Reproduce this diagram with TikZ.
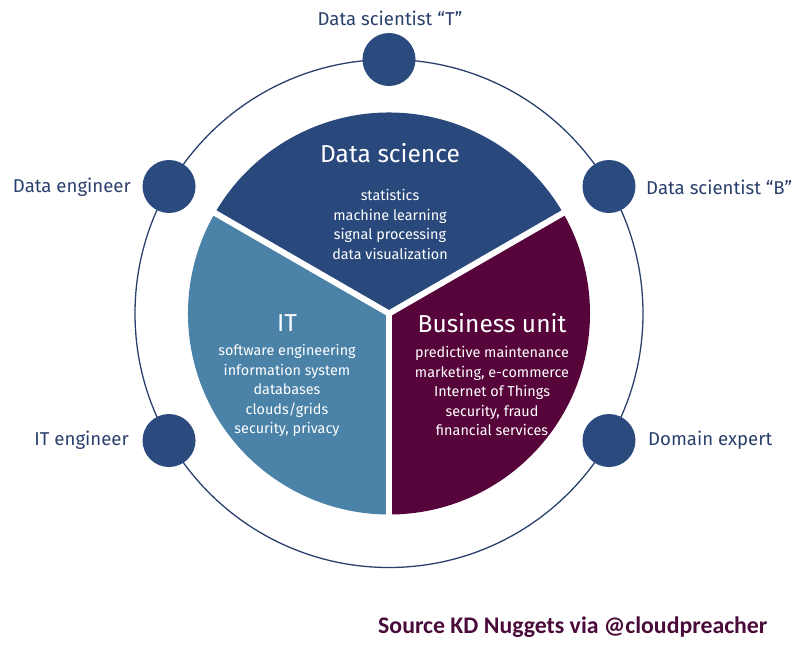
\documentclass[tikz,border=0pt]{standalone}
\usepackage{fontspec}
\usetikzlibrary{calc}
\setmainfont{Fira Sans}
\newfontfamily\srcfont{Carlito}
\definecolor{dsblue}{RGB}{41,73,124}
\definecolor{itblue}{RGB}{74,130,168}
\definecolor{bupurple}{RGB}{86,4,58}
\definecolor{dotblue}{RGB}{43,74,126}
\definecolor{lblblue}{RGB}{42,64,108}
\definecolor{srcpurple}{RGB}{74,10,58}
\tikzset{
  dot/.style={circle,fill=dotblue,minimum size=53pt,inner sep=0pt},
  outerlbl/.style={text=lblblue,font=\fontsize{18.6}{20}\selectfont,inner sep=0pt},
  title/.style={text=white,font=\fontsize{24.5}{28}\selectfont,inner sep=0pt},
  body/.style={text=white,font=\fontsize{14.4}{19.4}\selectfont,align=center,inner sep=0pt},
  gap/.style={white,line width=6pt}
}
\begin{document}
\begin{tikzpicture}[x=1pt,y=1pt]
\useasboundingbox (0,0) rectangle (800,-659);
\coordinate (C) at (389,-313.5);
% outer ring
\node[circle,draw=lblblue,line width=1.3pt,minimum size=508pt,inner sep=0pt] (ring) at (C) {};
% sectors
\fill[dsblue] (C) -- ++(30:201) arc[start angle=30,end angle=150,radius=201] -- cycle;
\fill[itblue] (C) -- ++(150:201) arc[start angle=150,end angle=270,radius=201] -- cycle;
\fill[bupurple] (C) -- ++(270:201) arc[start angle=270,end angle=390,radius=201] -- cycle;
\coordinate (g1) at ($(C)+(30:206)$);
\coordinate (g2) at ($(C)+(150:206)$);
\coordinate (g3) at ($(C)+(270:206)$);
\draw[gap] (C) -- (g1);
\draw[gap] (C) -- (g2);
\draw[gap] (C) -- (g3);
% dots
\node[dot] (dT) at ($(C)+(90:254)$) {};
\node[dot] (dB) at ($(C)+(30:254)$) {};
\node[dot] (dE) at ($(C)+(150:254)$) {};
\node[dot] (dI) at ($(C)+(210:254)$) {};
\node[dot] (dD) at ($(C)+(330:254)$) {};
% outer labels
\node[outerlbl] (lT) at (390,-18) {Data scientist “T”};
\node[outerlbl,anchor=east] (lE) at (131,-187) {Data engineer};
\node[outerlbl,anchor=west] (lB) at (646,-187) {Data scientist “B”};
\node[outerlbl,anchor=east] (lI) at (129,-440) {IT engineer};
\node[outerlbl,anchor=west] (lD) at (648,-440) {Domain expert};
% sector texts
\node[title] (tDS) at (390,-153) {Data science};
\node[body,anchor=north] (bDS) at (390,-189.5) {statistics\\machine learning\\signal processing\\data visualization};
\node[title] (tIT) at (287,-323) {IT};
\node[body,anchor=north] (bIT) at (287,-344.5) {software engineering\\information system\\databases\\clouds/grids\\security, privacy};
\node[title] (tBU) at (492,-323) {Business unit};
\node[body,anchor=north] (bBU) at (492,-346.5) {predictive maintenance\\marketing, e-commerce\\Internet of Things\\security, fraud\\financial services};
% source
\node[text=srcpurple,font=\srcfont\bfseries\fontsize{23.8}{26}\selectfont,inner sep=0pt,anchor=west] (src) at (378,-627) {Source KD Nuggets via @cloudpreacher};
\end{tikzpicture}
\end{document}
